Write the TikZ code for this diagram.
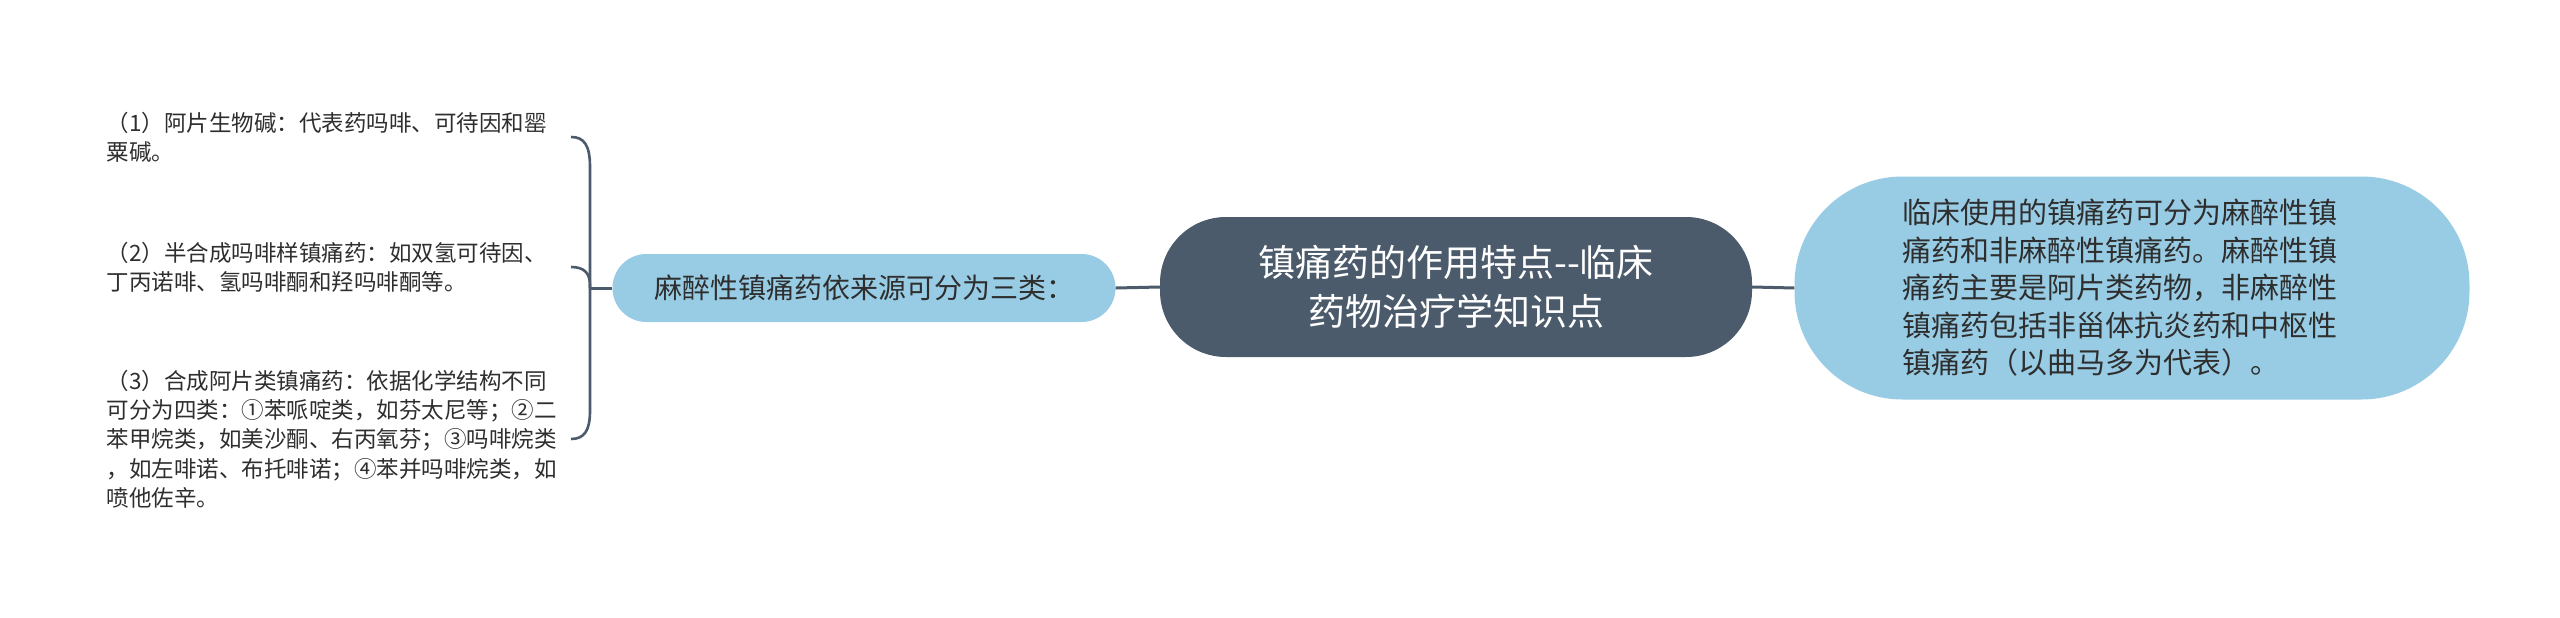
\documentclass[tikz,border=0pt]{standalone}
\usepackage{fontspec}
\setmainfont{Noto Sans CJK SC}
\usetikzlibrary{calc}
\definecolor{darkslate}{HTML}{4B5B6B}
\definecolor{lightblue}{HTML}{98CCE4}
\definecolor{txt}{HTML}{2E2E2E}
\tikzset{
  conn/.style={draw=darkslate, line width=3pt},
  rootbox/.style={fill=darkslate, text=white, rounded corners=66pt, align=center,
    font=\fontsize{37}{49}\selectfont, inner sep=0pt},
  bluebox/.style={fill=lightblue, text=txt, inner sep=0pt},
  leaf/.style={text=txt, align=left, text width=457pt, inner xsep=7pt, inner ysep=0pt,
    font=\fontsize{22.5}{29.3}\selectfont}
}
\begin{document}
\begin{tikzpicture}[x=1pt,y=-1pt]
\useasboundingbox[fill=white] (0,0) rectangle (2560,618);
% root
\node[rootbox, minimum width=592pt, minimum height=140pt] (root) at (1456,287)
  {镇痛药的作用特点-{}-临床\\药物治疗学知识点};
% right node
\node[bluebox, rounded corners=108pt, minimum width=675pt, minimum height=223pt] (right) at (2132,288) {};
\node[text=txt, inner sep=0pt, align=left, font=\fontsize{29}{37.5}\selectfont] (righttext) at (2120,288)
  {临床使用的镇痛药可分为麻醉性镇\\痛药和非麻醉性镇痛药。麻醉性镇\\痛药主要是阿片类药物，非麻醉性\\镇痛药包括非甾体抗炎药和中枢性\\镇痛药（以曲马多为代表）。};
% left node
\node[bluebox, rounded corners=34pt, minimum width=503pt, minimum height=68pt,
  font=\fontsize{28}{34}\selectfont] (left) at (864,288)
  {麻醉性镇痛药依来源可分为三类：};
% leaves
\node[leaf, anchor=east] (l1) at (571,137)
  {（1）阿片生物碱：代表药吗啡、可待因和罂\\粟碱。};
\node[leaf, anchor=east] (l2) at (571,267)
  {（2）半合成吗啡样镇痛药：如双氢可待因、\\丁丙诺啡、氢吗啡酮和羟吗啡酮等。};
\node[leaf, anchor=east] (l3) at (571,439)
  {（3）合成阿片类镇痛药：依据化学结构不同\\可分为四类：①苯哌啶类，如芬太尼等；②二\\苯甲烷类，如美沙酮、右丙氧芬；③吗啡烷类\\，如左啡诺、布托啡诺；④苯并吗啡烷类，如\\喷他佐辛。};
% connectors
\draw[conn] (root.east) -- (right.west);
\draw[conn] (left.east) -- (root.west);
\coordinate (hub) at (590,288);
\draw[conn] (left.west) -- (hub);
\draw[conn, line width=2.6pt] (hub) -- ($(hub|-l1.east)+(0,30)$)
  .. controls ($(hub|-l1.east)+(0,8)$) and ($(hub|-l1.east)+(-6,0)$) .. (l1.east);
\draw[conn, line width=2.6pt] (hub) -- ($(hub|-l2.east)+(0,18)$)
  .. controls ($(hub|-l2.east)+(0,6)$) and ($(hub|-l2.east)+(-6,0)$) .. (l2.east);
\draw[conn, line width=2.6pt] (hub) -- ($(hub|-l3.east)+(0,-28)$)
  .. controls ($(hub|-l3.east)+(0,-8)$) and ($(hub|-l3.east)+(-6,0)$) .. (l3.east);
\end{tikzpicture}
\end{document}
